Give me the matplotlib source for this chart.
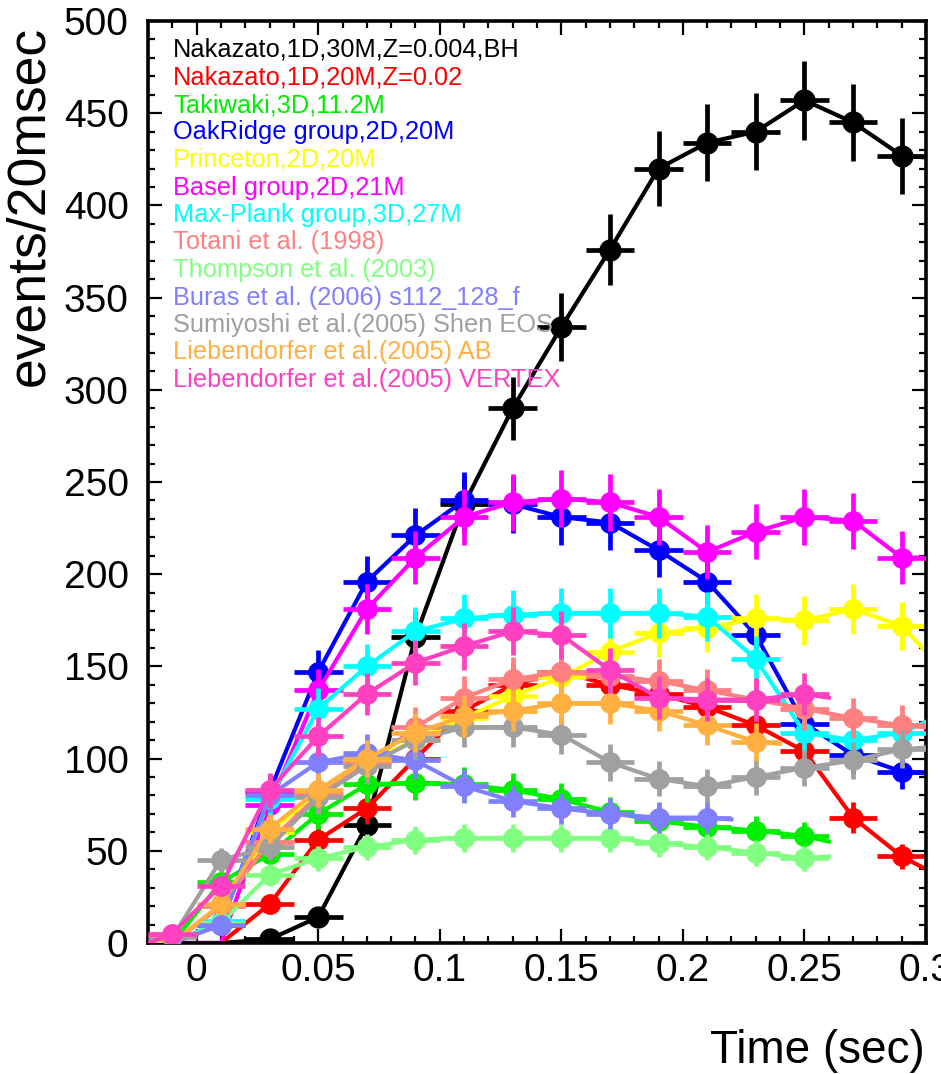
import numpy as np
import matplotlib
matplotlib.use("Agg")
import matplotlib.pyplot as plt
from matplotlib.ticker import MultipleLocator

# bin centres (sec), 20 msec bins
t_bins = [-0.01, 0.01, 0.03, 0.05, 0.07, 0.09, 0.11, 0.13,
          0.15, 0.17, 0.19, 0.21, 0.23, 0.25, 0.27, 0.29]

labels = [
    "Nakazato,1D,30M,Z=0.004,BH",
    "Nakazato,1D,20M,Z=0.02",
    "Takiwaki,3D,11.2M",
    "OakRidge group,2D,20M",
    "Princeton,2D,20M",
    "Basel group,2D,21M",
    "Max-Plank group,3D,27M",
    "Totani et al. (1998)",
    "Thompson et al. (2003)",
    "Buras et al. (2006) s112_128_f",
    "Sumiyoshi et al.(2005) Shen EOS",
    "Liebendorfer et al.(2005) AB",
    "Liebendorfer et al.(2005) VERTEX",
]

colors = ["#000000", "#ff0000", "#00ee00", "#0000ff", "#ffff00", "#ff00ff",
          "#00ffff", "#ff8080", "#80ff80", "#8080ff", "#a0a0a0", "#ffb040",
          "#ff40c0"]

# events per bin
nakazato_30m = [0, 0, 2, 14, 64, 166, 238, 290, 334, 376, 420, 434, 440, 457, 445, 427]
nakazato_20m = [0, 0, 21, 56, 73, 100, 126, 140, 147, 140, 135, 128, 118, 104, 68, 47]
takiwaki = [0, 33, 48, 70, 86, 87, 86, 83, 78, 71, 66, 63, 61, 58]
oakridge = [0, 10, 82, 147, 196, 221, 240, 238, 231, 228, 213, 196, 167, 119, 102, 93]
princeton = [0, 20, 60, 82, 98, 110, 122, 134, 144, 158, 168, 171, 176, 175, 181, 172]
basel = [0, 0, 75, 137, 181, 209, 231, 239, 241, 239, 231, 212, 223, 231, 229, 209]
maxplank = [0, 12, 78, 127, 150, 169, 176, 178, 179, 179, 179, 177, 154, 114, 110, 114]
totani = [0, 20, 55, 80, 97, 117, 133, 143, 147, 145, 142, 137, 132, 127, 122, 118]
thompson = [0, 11, 37, 46, 52, 56, 57, 57, 57, 57, 54, 52, 49, 46]
buras = [0, 10, 80, 98, 103, 99, 85, 77, 73, 70, 68, 68]
sumiyoshi = [3, 45, 52, 79, 96, 110, 117, 117, 113, 98, 89, 85, 90, 95, 99, 105]
liebendorfer_ab = [0, 21, 62, 83, 100, 114, 123, 126, 130, 130, 126, 118, 109]
liebendorfer_vertex = [5, 31, 83, 112, 135, 152, 161, 169, 167, 148, 133, 132, 132, 135]

# where each model's light curve stops, and its value there
end_time = [0.30, 0.30, 0.26, 0.30, 0.30, 0.30, 0.30, 0.30, 0.26, 0.22, 0.30, 0.24, 0.26]
end_value = [426, 40, 55, 92, 158, 209, 120, 117, 47, 67, 106, 108, 133]

series = [nakazato_30m, nakazato_20m, takiwaki, oakridge, princeton, basel,
          maxplank, totani, thompson, buras, sumiyoshi, liebendorfer_ab,
          liebendorfer_vertex]

font = ["Liberation Sans", "DejaVu Sans"]

fig = plt.figure(figsize=(9.41, 10.74), dpi=100)
ax = fig.add_axes([148 / 941, 131 / 1074, 778 / 941, 922 / 1074])

for i, (counts, c) in enumerate(zip(series, colors)):
    counts = np.array(counts, dtype=float)
    t = np.array(t_bins[:len(counts)])
    line_t = np.concatenate([[-0.02], t, [end_time[i]]])
    line_n = np.concatenate([[0.0], counts, [end_value[i]]])
    ax.plot(line_t, line_n, color=c, lw=3.0, zorder=2 + i * 0.1,
            solid_joinstyle="round")
    ok = counts > 0
    ms = 15 if i == 0 else 14
    ax.errorbar(t[ok], counts[ok], xerr=0.01, yerr=np.sqrt(counts[ok]),
                fmt="o", color=c, ms=ms, elinewidth=3.4, capsize=0,
                zorder=2.05 + i * 0.1)

ax.set_xlim(-0.02, 0.3)
ax.set_ylim(0, 500)
ax.xaxis.set_major_locator(MultipleLocator(0.05))
ax.xaxis.set_minor_locator(MultipleLocator(0.01))
ax.yaxis.set_major_locator(MultipleLocator(50))
ax.yaxis.set_minor_locator(MultipleLocator(10))
ax.set_xticks([0, 0.05, 0.1, 0.15, 0.2, 0.25, 0.3])
ax.set_xticklabels(["0", "0.05", "0.1", "0.15", "0.2", "0.25", "0.3"])

ax.tick_params(which="both", direction="in", top=True, right=True, width=1.6)
ax.tick_params(which="major", length=10)
ax.tick_params(which="minor", length=5)
ax.tick_params(axis="y", which="major", pad=14)
ax.tick_params(axis="x", which="major", pad=7)
for lab in ax.get_xticklabels() + ax.get_yticklabels():
    lab.set_family(font)
    lab.set_fontsize(28)
for sp in ax.spines.values():
    sp.set_linewidth(2.6)

# model names, stacked in the upper left
for i, (name, c) in enumerate(zip(labels, colors)):
    y_px = 57 + i * 27.5
    ax.text(25 / 778, 1 - (y_px - 21) / 922, name, color=c, fontsize=18.3,
            family=font, transform=ax.transAxes, va="baseline", ha="left",
            zorder=10)

fig.text(29 / 941, 1 - 206 / 1074, "events/20msec", rotation=90,
         fontsize=38.5, family=font, ha="center", va="center")
fig.text(925 / 941, 1 - 1063 / 1074, "Time (sec)", fontsize=33,
         family=font, ha="right", va="baseline")

fig.savefig("out.png", dpi=100)
